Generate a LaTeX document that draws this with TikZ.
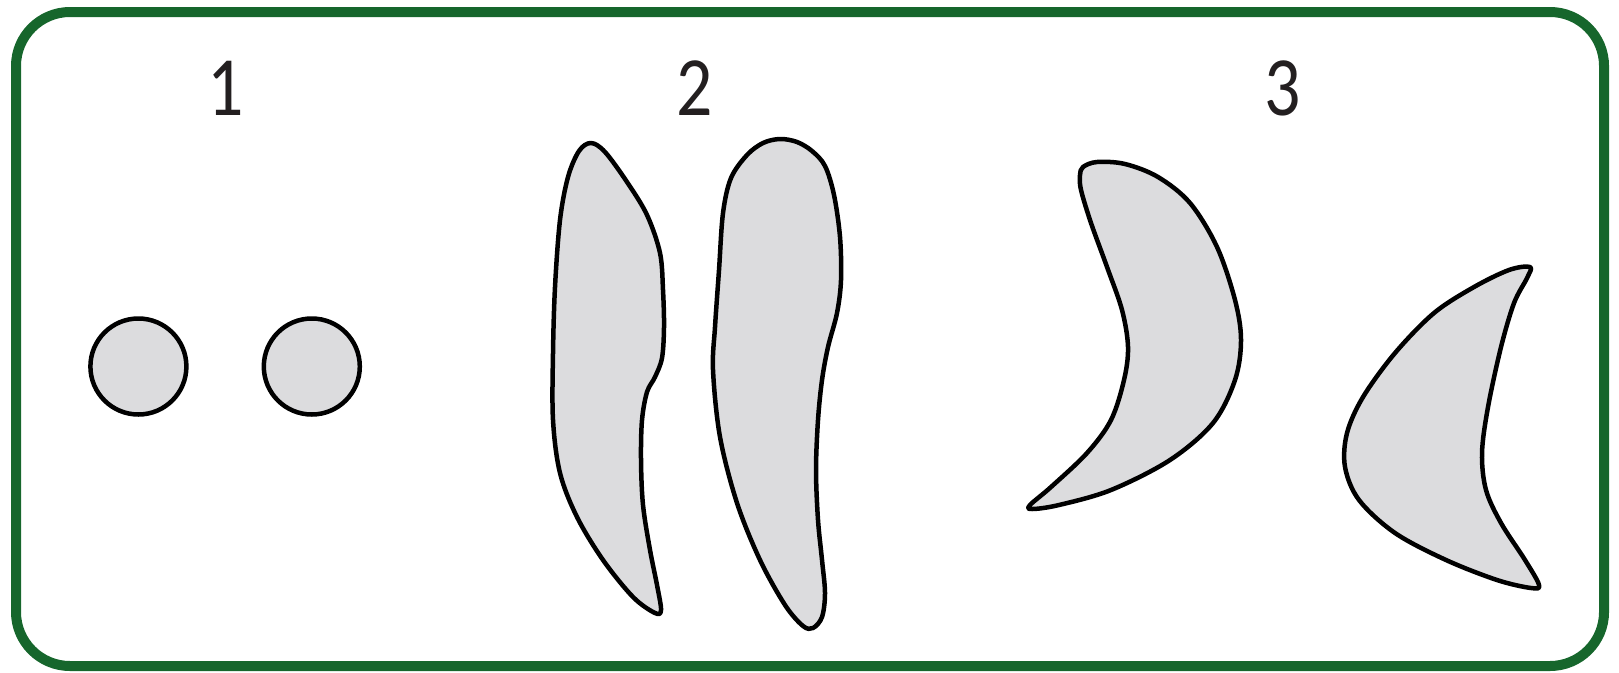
\documentclass[tikz,border=0pt]{standalone}
\usepackage{fontspec}
\setmainfont{Carlito}
\usepackage{tikz}
\usetikzlibrary{
  calc,
  positioning
}
\definecolor{framegreen}{RGB}{22,102,44}
\definecolor{cellgray}{RGB}{220,220,222}
\definecolor{digitink}{RGB}{35,31,32}
\tikzset{
  cell/.style={draw=black,fill=cellgray,line width=0.45mm,line join=round},
  digit/.style={text=digitink,font=\fontsize{24}{28}\selectfont,inner sep=0pt,xscale=0.85}
}

\begin{document}
\begin{tikzpicture}[x=0.1mm,y=-0.1mm]
                  \useasboundingbox (0,0) rectangle (1619,672);
                  \draw[framegreen,line width=1mm,rounded corners=5.4mm] (16,12) rectangle (1604,666);

                  \node[digit] (one) at (226,88) {1};
                  \node[digit] (two) at (695,88) {2};
                  \node[digit] (three) at (1283,88) {3};

                  % round cells
                  \node[cell,circle,minimum size=9.6mm,inner sep=0pt] (roundA) at (138.4,366.5) {};
                  \node[cell,circle,minimum size=9.6mm,inner sep=0pt] (roundB) at (311.8,366.5) {};

                  % long cells
                  \draw[cell] plot[smooth cycle,tension=0.55] coordinates {(591,143) (605,152) (627,182) (647,215) (660,253) (663,290) (664,327) (662,358) (655,377) (647,392) (642,420) (641,460) (643,505) (650,550) (657,585) (661,610) (655,613) (633,597) (603,560) (577,517) (560,473) (553,420) (553,353) (555,287) (560,220) (568,177) (579,151)};
                  \draw[cell] plot[smooth cycle,tension=0.55] coordinates {(763,143) (780,139) (797,142) (812,151) (825,166) (834,195) (840,237) (841,280) (837,313) (828,347) (822,380) (818,420) (816,470) (818,520) (822,560) (825,593) (822,617) (813,628) (803,626) (785,605) (760,560) (737,503) (720,437) (713,370) (715,327) (719,270) (723,213) (731,178) (747,155)};

                  % crescent cells
                  \draw[cell] plot[smooth cycle,tension=0.55] coordinates {(1083,167) (1097,162) (1125,164) (1158,177) (1190,203) (1217,247) (1235,300) (1241,340) (1235,380) (1213,423) (1170,460) (1111,490) (1059,505) (1032,509) (1030,505) (1051,487) (1087,453) (1111,420) (1124,380) (1128,347) (1122,310) (1107,267) (1091,223) (1081,190) (1080,175)};
                  \draw[cell] plot[smooth cycle,tension=0.55] coordinates {(1530,267) (1509,270) (1474,287) (1434,313) (1395,353) (1363,397) (1347,433) (1345,467) (1359,500) (1395,533) (1446,560) (1497,580) (1531,588) (1539,585) (1525,560) (1501,523) (1486,490) (1482,453) (1488,407) (1501,347) (1514,303) (1527,278)};
                \end{tikzpicture}
\end{document}
